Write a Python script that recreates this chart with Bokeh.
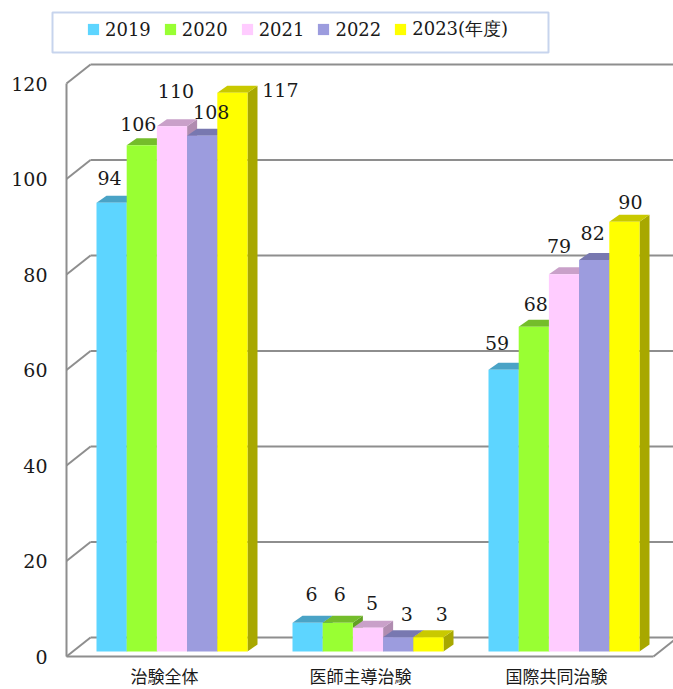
from bokeh.plotting import figure
from bokeh.models import (Range1d, LinearAxis, FixedTicker, ColumnDataSource,
                          Legend, LegendItem, BoxAnnotation)
from bokeh.core.properties import value
from bokeh.embed import file_html
from bokeh.resources import INLINE

# ---------------- data ----------------
CATEGORIES = ["治験全体", "医師主導治験", "国際共同治験"]
SERIES = ["2019", "2020", "2021", "2022", "2023(年度)"]
V2019 = [94, 6, 59]
V2020 = [106, 6, 68]
V2021 = [110, 5, 79]
V2022 = [108, 3, 82]
V2023 = [117, 3, 90]
VALUES = [V2019, V2020, V2021, V2022, V2023]
Y_TICKS = [0, 20, 40, 60, 80, 100, 120]

# ---------------- styles ----------------
FRONT = ["#5DD5FF", "#99FF33", "#FFCCFF", "#9C9CDE", "#FFFF00"]
TOP = ["#4AA3C6", "#74BD2B", "#C9A0C9", "#7878B0", "#C9C900"]
SIDE = ["#3D8AA8", "#62A024", "#B08CB0", "#6464A0", "#A8A800"]
GRID_COLOR = "#8e8e8e"
TEXT_COLOR = "#1a1a1a"
NUM_FONT = "DejaVu Serif"
CJK_FONT = "Noto Sans CJK JP"

# label nudges (screen px) per series, per category
LABEL_DX = [[-2, 4, -6.5], [-3.5, 2, 2], [4, 4, -5], [9, 8.5, -1.5], [48, 13.5, 6]]
LABEL_DY = [[-25, -29, -27], [-21, -29, -23], [-35, -25, -28], [-24, -23, -26.5], [-3, -23, -20]]

# ---------------- geometry ----------------
W, H = 673, 689
PX_X = 30.2              # px per bar width unit
PX_Y = 573 / 120         # px per value unit
MB_LEFT = 50
WALL_X = 66              # canvas x of the left wall front line
FLOOR_Y = 656            # canvas y of the front floor edge
X0 = -(WALL_X - MB_LEFT) / PX_X
X1 = X0 + (W - MB_LEFT) / PX_X
Y0 = -(H - FLOOR_Y) / PX_Y
Y1 = FLOOR_Y / PX_Y

DXW, DYW = 24 / PX_X, 19 / PX_Y      # wall depth
DXB, DYB = 10 / PX_X, 7 / PX_Y       # bar depth
BAR0 = 30 / PX_X
GROUP_STEP = 196 / PX_X
BAR_Y0 = 5 / PX_Y
FLOOR_R = 587 / PX_X

def px_x(px):
    return (px - WALL_X) / PX_X

def px_y(py):
    return (FLOOR_Y - py) / PX_Y

p = figure(width=W, height=H, output_backend="svg", toolbar_location=None,
           x_range=Range1d(X0, X1), y_range=Range1d(Y0, Y1),
           x_axis_type=None, y_axis_type=None,
           min_border_left=MB_LEFT, min_border_right=0, min_border_top=0,
           min_border_bottom=0, outline_line_color=None)
p.background_fill_color = "white"

# ---- back wall / floor lines ----
n = len(Y_TICKS)
slant = ColumnDataSource(dict(x0=[0] * n, y0=Y_TICKS,
                              x1=[DXW] * n, y1=[v + DYW for v in Y_TICKS]))
p.segment("x0", "y0", "x1", "y1", source=slant, line_color=GRID_COLOR, line_width=2)
back = ColumnDataSource(dict(x0=[DXW] * n, y0=[v + DYW for v in Y_TICKS],
                             x1=[X1 + 2] * n, y1=[v + DYW for v in Y_TICKS]))
p.segment("x0", "y0", "x1", "y1", source=back, line_color=GRID_COLOR, line_width=2)
edges = ColumnDataSource(dict(x0=[0, 0, FLOOR_R], y0=[0, 0, 0],
                              x1=[0, FLOOR_R, FLOOR_R + DXW], y1=[Y_TICKS[-1], 0, DYW]))
p.segment("x0", "y0", "x1", "y1", source=edges, line_color=GRID_COLOR, line_width=2)

# ---- bars ----
front_renderers = []
lx, ly, lt, ldx, ldy = [], [], [], [], []
for s, vals in enumerate(VALUES):
    left = [BAR0 + g * GROUP_STEP + s for g in range(len(vals))]
    right = [l + 1 for l in left]
    top = [BAR_Y0 + v for v in vals]
    side_xs = [[r, r + DXB, r + DXB, r] for r in right]
    side_ys = [[BAR_Y0, BAR_Y0 + DYB, t + DYB, t] for t in top]
    p.patches(side_xs, side_ys, fill_color=SIDE[s], line_color=None)
    top_xs = [[l, r, r + DXB, l + DXB] for l, r in zip(left, right)]
    top_ys = [[t, t, t + DYB, t + DYB] for t in top]
    p.patches(top_xs, top_ys, fill_color=TOP[s], line_color=None)
    fr = p.quad(left=left, right=right, bottom=BAR_Y0, top=top,
                fill_color=FRONT[s], line_color=None)
    front_renderers.append(fr)
    for g, v in enumerate(vals):
        lx.append(left[g] + 0.5)
        ly.append(top[g])
        lt.append(str(v))
        ldx.append(LABEL_DX[s][g])
        ldy.append(LABEL_DY[s][g])

lab = ColumnDataSource(dict(x=lx, y=ly, text=lt, dx=ldx, dy=ldy))
p.text("x", "y", text="text", x_offset="dx", y_offset="dy", source=lab,
       text_align="center", text_baseline="middle",
       text_font=value(NUM_FONT), text_font_size="19px", text_color=TEXT_COLOR)

# ---- category labels under the floor ----
cat_x = [BAR0 + g * GROUP_STEP + 2.25 for g in range(len(CATEGORIES))]
cats = ColumnDataSource(dict(x=cat_x, y=[0] * len(CATEGORIES), text=CATEGORIES))
p.text("x", "y", text="text", source=cats, y_offset=19,
       text_align="center", text_baseline="middle",
       text_font=value(CJK_FONT), text_font_size="17px", text_color=TEXT_COLOR)

# ---- y axis ----
yax = LinearAxis(ticker=FixedTicker(ticks=Y_TICKS), bounds=(0, Y_TICKS[-1]))
yax.axis_line_color = None
yax.major_tick_line_color = None
yax.major_tick_out = 0
yax.major_tick_in = 0
yax.minor_tick_line_color = None
yax.major_label_standoff = 3
yax.major_label_text_font = NUM_FONT
yax.major_label_text_font_size = "19px"
yax.major_label_text_color = TEXT_COLOR
p.add_layout(yax, "left")

# ---- legend ----
box = BoxAnnotation(left=px_x(52), right=px_x(548), top=px_y(12), bottom=px_y(52),
                    fill_color="white", fill_alpha=1.0,
                    line_color="#4472C4", line_width=2)
p.add_layout(box)

legend = Legend(items=[LegendItem(label=SERIES[s], renderers=[front_renderers[s]])
                       for s in range(len(SERIES))],
                orientation="horizontal", location=(26, H - 51),
                glyph_width=14, glyph_height=14, label_standoff=5, spacing=12,
                padding=10, margin=0,
                background_fill_alpha=0, border_line_alpha=0,
                label_text_font=NUM_FONT, label_text_font_size="18px",
                label_text_color=TEXT_COLOR)
p.add_layout(legend, "center")

open("out.html", "w").write(file_html(p, INLINE))
